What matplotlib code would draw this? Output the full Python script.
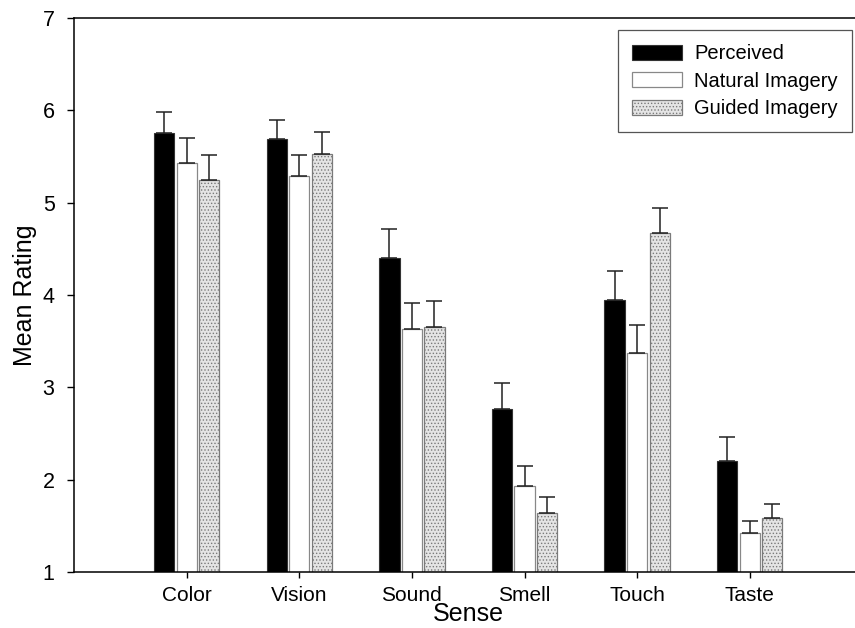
import numpy as np
import matplotlib
matplotlib.use("Agg")
import matplotlib.pyplot as plt

senses = ["Color", "Vision", "Sound", "Smell", "Touch", "Taste"]
perceived = [5.75, 5.69, 4.40, 2.76, 3.95, 2.20]
perceived_err = [0.23, 0.20, 0.31, 0.29, 0.31, 0.26]
natural = [5.43, 5.29, 3.63, 1.93, 3.37, 1.42]
natural_err = [0.27, 0.23, 0.28, 0.22, 0.30, 0.13]
guided = [5.25, 5.53, 3.65, 1.64, 4.67, 1.58]
guided_err = [0.27, 0.24, 0.28, 0.17, 0.27, 0.16]

plt.rcParams["font.family"] = ["Liberation Sans", "DejaVu Sans"]
plt.rcParams["hatch.linewidth"] = 0.6

fig = plt.figure(figsize=(8.55, 6.28), dpi=100)
ax = fig.add_axes([0.0866, 0.0892, 0.922, 0.8822])

x = np.arange(1, len(senses) + 1)
w = 0.18
step = 0.2
err_kw = dict(ecolor="#222222", elinewidth=1.1, capsize=5.5, capthick=1.1)

ax.bar(x - step, perceived, w, color="black", edgecolor="#333333",
       linewidth=0.8, label="Perceived")
ax.errorbar(x - step, perceived, yerr=[np.zeros(6), perceived_err], fmt="none", **err_kw)

ax.bar(x, natural, w, color="white", edgecolor="#888888", linewidth=0.9,
       label="Natural Imagery")
ax.errorbar(x, natural, yerr=[np.zeros(6), natural_err], fmt="none", **err_kw)

ax.bar(x + step, guided, w, color="#e4e4e4", edgecolor="#7a7a7a", hatch=".....",
       linewidth=0.9, label="Guided Imagery")
ax.errorbar(x + step, guided, yerr=[np.zeros(6), guided_err], fmt="none", **err_kw)

ax.set_xlim(0, 7)
ax.set_ylim(1, 7)
ax.set_xticks(x)
ax.set_xticklabels(senses, fontsize=15)
ax.set_yticks(range(1, 8))
ax.tick_params(axis="y", labelsize=15.5, length=5, direction="out", width=1, pad=9)
ax.tick_params(axis="x", length=4, direction="out", width=1, pad=6)
ax.spines["right"].set_visible(False)
for s in ["left", "bottom", "top"]:
    ax.spines[s].set_linewidth(1.1)

ax.set_xlabel("Sense", fontsize=18, labelpad=-2)
ax.set_ylabel("Mean Rating", fontsize=18, labelpad=4)

leg = ax.legend(loc="upper right", bbox_to_anchor=(0.987, 0.978), fontsize=14.5,
                fancybox=False, framealpha=1, edgecolor="#555555",
                handlelength=2.5, handleheight=0.75, handletextpad=0.6,
                borderpad=0.7, labelspacing=0.42, borderaxespad=0)
leg.get_frame().set_linewidth(0.9)

fig.savefig("out.png", dpi=100)
